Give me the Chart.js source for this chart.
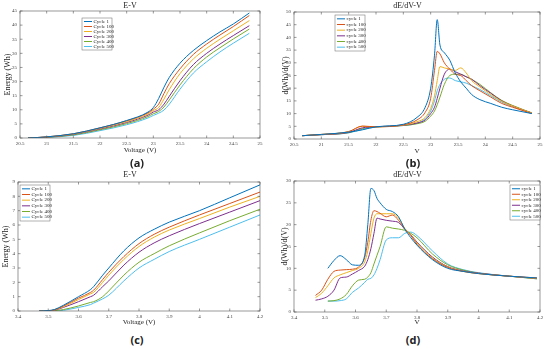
<!DOCTYPE html>
<html>
<head>
<meta charset="utf-8">
<script src="https://cdn.jsdelivr.net/npm/chart.js@4.4.1/dist/chart.umd.min.js"></script>
<style>
body { margin: 0; background: #fff; }
#page { position: relative; width: 550px; height: 349px; overflow: hidden; background: #fff; }
canvas { position: absolute; }
.tag { position: absolute; width: 40px; text-align: center; font: bold 11px "Open Sans", sans-serif; color: #222; }
</style>
</head>
<body>
<div id="page">
  <canvas id="chartA" width="275" height="158" style="left:0;top:0"></canvas>
  <canvas id="chartB" width="275" height="158" style="left:275px;top:0"></canvas>
  <canvas id="chartC" width="275" height="162" style="left:0;top:168px"></canvas>
  <canvas id="chartD" width="275" height="162" style="left:275px;top:168px"></canvas>
  <div class="tag" style="left:117px;top:155px">(a)</div>
  <div class="tag" style="left:393px;top:155px">(b)</div>
  <div class="tag" style="left:117px;top:332px">(c)</div>
  <div class="tag" style="left:393px;top:332px">(d)</div>
</div>
<script>
// legend names
const namesEV = ['Cycle 1', 'Cycle 100', 'Cycle 200', 'Cycle 300', 'Cycle 400', 'Cycle 500'];
const namesDV = ['cycle 1', 'cycle 100', 'cycle 200', 'cycle 300', 'cycle 400', 'cycle 500'];

// (a) pack E-V
const voltsA = [20.65, 21, 21.5, 22, 22.5, 22.9, 23.0, 23.1, 23.2, 23.3, 23.5, 23.75, 24, 24.25, 24.5, 24.8];
const energyA1   = [0, 0.4, 1.5, 3.6, 6.2, 9.2, 10.8, 14.0, 18.0, 21.5, 26.5, 31.0, 34.5, 37.6, 40.4, 44.3];
const energyA100 = [0, 0.4, 1.5, 3.6, 6.1, 8.9, 10.2, 12.0, 15.8, 19.3, 24.5, 29.6, 33.3, 36.5, 39.5, 43.4];
const energyA200 = [0, 0.35, 1.4, 3.4, 5.8, 8.5, 9.7, 10.8, 13.8, 17.2, 22.8, 28.0, 31.8, 35.0, 38.0, 41.6];
const energyA300 = [0, 0.3, 1.3, 3.2, 5.5, 8.1, 9.2, 10.0, 12.0, 14.8, 20.3, 26.0, 30.0, 33.3, 36.3, 39.8];
const energyA400 = [0, 0.25, 1.1, 2.9, 5.1, 7.6, 8.6, 9.4, 11.0, 13.5, 18.8, 24.5, 28.7, 32.0, 35.1, 38.6];
const energyA500 = [0, 0.2, 0.9, 2.6, 4.7, 7.1, 8.0, 8.8, 9.9, 12.0, 17.3, 23.0, 27.0, 30.5, 33.6, 37.1];

// (b) pack dE/dV-V
const voltsB = [20.65, 21, 21.5, 21.75, 22, 22.5, 22.75, 22.9, 23.0, 23.07, 23.12, 23.17, 23.25, 23.35, 23.45, 23.55, 23.65, 23.75, 23.9, 24.1, 24.3, 24.5, 24.85];
const dedvB1   = [1.3, 1.8, 2.7, 3.6, 4.8, 5.8, 8.5, 12.5, 20, 33, 47, 37, 34, 31, 26, 22.5, 20, 17.5, 15.5, 14, 12.5, 11.5, 10];
const dedvB100 = [1.3, 1.8, 2.9, 5.1, 4.8, 5.6, 7.5, 10.5, 16, 27, 34.5, 33.5, 30, 27.5, 25.5, 25, 23, 21, 19, 16.5, 14, 12.5, 10];
const dedvB200 = [1.3, 1.8, 2.9, 5.0, 4.8, 5.5, 6.8, 8.5, 12, 17, 23, 28.5, 28, 27.5, 27, 28, 26, 23, 20.5, 17.5, 14.8, 13, 10.2];
const dedvB300 = [1.3, 1.7, 2.6, 4.4, 4.8, 5.4, 6.3, 7.5, 10, 12.5, 16, 20, 25.5, 27.5, 26.5, 25.5, 24.5, 23.5, 21, 18, 15, 13, 10.2];
const dedvB400 = [1.3, 1.7, 2.5, 4.1, 4.8, 5.3, 6.0, 7.0, 9, 11, 13.5, 16.5, 21.5, 25, 25.5, 25.5, 24.5, 23.5, 21.5, 18.2, 15.2, 13.2, 10.3];
const dedvB500 = [1.3, 1.7, 2.4, 3.8, 4.7, 5.3, 6.2, 8, 11, 15, 19, 21.5, 23.5, 24, 23, 22.5, 22, 21, 19.5, 17, 14.5, 12.8, 10.2];

// (c) cell E-V
const voltsC = [3.47, 3.5, 3.52, 3.55, 3.6, 3.64, 3.65, 3.68, 3.7, 3.75, 3.8, 3.85, 3.9, 4.0, 4.1, 4.2];
const energyC1   = [0, 0.03, 0.1, 0.4, 1.0, 1.5, 1.7, 2.5, 3.0, 4.2, 5.1, 5.7, 6.2, 7.0, 7.9, 8.8];
const energyC100 = [0, 0.02, 0.08, 0.35, 0.9, 1.3, 1.45, 2.2, 2.7, 3.8, 4.7, 5.35, 5.85, 6.7, 7.5, 8.3];
const energyC200 = [0, 0.02, 0.07, 0.3, 0.8, 1.2, 1.3, 2.0, 2.5, 3.6, 4.5, 5.15, 5.65, 6.45, 7.25, 8.0];
const energyC300 = [0, 0.01, 0.05, 0.25, 0.65, 1.0, 1.1, 1.7, 2.1, 3.2, 4.1, 4.75, 5.25, 6.1, 6.9, 7.7];
const energyC400 = [0, 0, 0.02, 0.1, 0.35, 0.6, 0.65, 1.0, 1.4, 2.5, 3.4, 4.0, 4.55, 5.45, 6.3, 7.1];
const energyC500 = [0, 0, 0, 0.05, 0.25, 0.45, 0.55, 0.85, 1.1, 2.1, 3.0, 3.6, 4.15, 5.0, 5.85, 6.7];

// (d) cell dE/dV-V
const voltsD = [3.47, 3.49, 3.51, 3.53, 3.55, 3.57, 3.59, 3.61, 3.63, 3.64, 3.65, 3.66, 3.67, 3.68, 3.7, 3.72, 3.74, 3.76, 3.78, 3.8, 3.85, 3.9, 3.95, 4.0, 4.1, 4.19];
const dedvD1   = [null, null, 10, 11.8, 12.9, 12, 10.8, 10.7, 13, 20, 28.3, 27.8, 26, 25, 23.5, 23, 21.8, 19, 17, 15.3, 12, 10, 9.3, 8.8, 8.2, 7.8];
const dedvD100 = [3.8, 5, 7.5, 9.3, 9.6, 9.7, 9.8, 10.3, 12.5, 16, 21, 23.2, 23, 22.6, 21.8, 22.2, 21, 19, 17.5, 15.5, 12.2, 10.2, 9.3, 8.8, 8.2, 7.8];
const dedvD200 = [3.3, 4.3, 6, 7.8, 8.5, 9, 9.5, 10, 11.5, 14, 18, 21.5, 22.5, 22.5, 22.5, 22.5, 21.5, 19.2, 17.6, 15.8, 12.4, 10.3, 9.3, 8.8, 8.2, 7.7];
const dedvD300 = [2.7, 3, 3.6, 5, 7.8, 8, 8.7, 9.5, 10.5, 12, 14.5, 18, 21.5, 21.3, 21, 20.8, 20.5, 19, 17.7, 16, 12.6, 10.4, 9.4, 8.9, 8.2, 7.7];
const dedvD400 = [null, null, 2.5, 2.6, 3, 4, 6, 7.3, 7.5, 8, 9, 11, 13, 15, 19.5, 19.2, 19, 18.7, 18, 17, 13.3, 10.8, 9.6, 8.9, 8.2, 7.6];
const dedvD500 = [null, null, 2.5, 2.5, 2.6, 3, 4.5, 5.5, 6.8, 7.5, 7.7, 8.5, 10, 12, 16.5, 17, 17, 18, 18.3, 17.5, 14, 11, 9.7, 9, 8.2, 7.6];

const lineColors = ['#0072BD', '#D95319', '#EDB120', '#7E2F8E', '#77AC30', '#4DBEEE'];
const serif = '"Liberation Serif", "Times New Roman", serif';

// box around the axes with inward ticks, like matlab
const frameTicks = {
    id: 'frameTicks',
    afterDatasetsDraw(chart) {
        const ctx = chart.ctx;
        const a = chart.chartArea;
        const xs = chart.scales.x;
        const ys = chart.scales.y;
        ctx.save();
        ctx.strokeStyle = '#555';
        ctx.lineWidth = 0.6;
        ctx.strokeRect(a.left, a.top, a.right - a.left, a.bottom - a.top);
        ctx.beginPath();
        xs.ticks.forEach(t => {
            const px = xs.getPixelForValue(t.value);
            ctx.moveTo(px, a.bottom); ctx.lineTo(px, a.bottom - 2.5);
            ctx.moveTo(px, a.top); ctx.lineTo(px, a.top + 2.5);
        });
        ys.ticks.forEach(t => {
            const py = ys.getPixelForValue(t.value);
            ctx.moveTo(a.left, py); ctx.lineTo(a.left + 2.5, py);
            ctx.moveTo(a.right, py); ctx.lineTo(a.right - 2.5, py);
        });
        ctx.stroke();
        ctx.restore();
    }
};

// small boxed legend inside the plot
const boxLegend = {
    id: 'boxLegend',
    afterDraw(chart, args, o) {
        const ctx = chart.ctx;
        const a = chart.chartArea;
        const x = o.right ? a.right - o.w : a.left + o.dx;
        const y = a.top + o.dy;
        const sets = chart.data.datasets;
        const row = (o.h - 2) / sets.length;
        ctx.save();
        ctx.fillStyle = '#fff';
        ctx.fillRect(x, y, o.w, o.h);
        ctx.strokeStyle = '#666';
        ctx.lineWidth = 0.5;
        ctx.strokeRect(x, y, o.w, o.h);
        ctx.font = '5px ' + serif;
        ctx.textBaseline = 'middle';
        sets.forEach((ds, i) => {
            const cy = y + 1 + row * (i + 0.5);
            ctx.strokeStyle = ds.borderColor;
            ctx.lineWidth = 1;
            ctx.beginPath();
            ctx.moveTo(x + 2, cy);
            ctx.lineTo(x + 10, cy);
            ctx.stroke();
            ctx.fillStyle = '#222';
            ctx.fillText(ds.label, x + 11.5, cy);
        });
        ctx.restore();
    }
};

function makeSets(volts, series, names) {
    return series.map((vals, i) => ({
        label: names[i],
        data: volts.map((v, j) => ({ x: v, y: vals[j] })).filter(p => p.y !== null),
        borderColor: lineColors[i],
        borderWidth: 1,
        pointRadius: 0,
        cubicInterpolationMode: 'monotone',
        fill: false
    }));
}

function tickText(v) {
    return String(+Number(v).toFixed(2));
}

function makePanel(id, p) {
    new Chart(document.getElementById(id), {
        type: 'line',
        data: { datasets: makeSets(p.volts, p.series, p.names) },
        options: {
            responsive: false,
            animation: false,
            layout: { padding: { right: p.padRight } },
            plugins: {
                legend: { display: false },
                tooltip: { enabled: false },
                title: {
                    display: true,
                    text: p.title,
                    color: '#222',
                    font: { family: serif, size: 8, weight: 'normal' },
                    padding: p.titlePad
                },
                boxLegend: p.legend
            },
            scales: {
                x: {
                    type: 'linear',
                    min: p.xMin,
                    max: p.xMax,
                    ticks: { stepSize: p.xStep, autoSkip: false, maxRotation: 0, padding: 2.5, color: '#444', font: { family: serif, size: 5 }, callback: tickText },
                    grid: { display: false, drawTicks: false },
                    border: { display: false },
                    title: { display: true, text: p.xTitle, color: '#222', font: { family: serif, size: 7 }, padding: { top: 0, bottom: p.xTitlePad } },
                    afterFit: s => { s.height = p.xAxisH; }
                },
                y: {
                    min: 0,
                    max: p.yMax,
                    ticks: { stepSize: p.yStep, autoSkip: false, padding: 3, color: '#444', font: { family: serif, size: 5 }, callback: tickText },
                    grid: { display: false, drawTicks: false },
                    border: { display: false },
                    title: { display: true, text: p.yTitle, color: '#222', font: { family: serif, size: 8 }, padding: { top: p.yTitlePad, bottom: 0 } },
                    afterFit: s => { s.width = p.yAxisW; }
                }
            }
        },
        plugins: [frameTicks, boxLegend]
    });
}

makePanel('chartA', {
    volts: voltsA,
    series: [energyA1, energyA100, energyA200, energyA300, energyA400, energyA500],
    names: namesEV, title: 'E-V', titlePad: { top: 1.4, bottom: 0 },
    xMin: 20.5, xMax: 25, xStep: 0.5, xTitle: 'Voltage (V)', xTitlePad: 3.3, xAxisH: 20,
    yMax: 45, yStep: 5, yTitle: 'Energy (Wh)', yTitlePad: 3, yAxisW: 20,
    padRight: 15,
    legend: { dx: 62, dy: 7, w: 30, h: 32 }
});

makePanel('chartB', {
    volts: voltsB,
    series: [dedvB1, dedvB100, dedvB200, dedvB300, dedvB400, dedvB500],
    names: namesDV, title: 'dE/dV-V', titlePad: { top: 1.4, bottom: 1 },
    xMin: 20.5, xMax: 25, xStep: 0.5, xTitle: 'V', xTitlePad: 2.8, xAxisH: 19,
    yMax: 50, yStep: 5, yTitle: 'd(Wh)/d(V)', yTitlePad: 6, yAxisW: 19,
    padRight: 10,
    legend: { dx: 41, dy: 3, w: 30, h: 36 }
});

makePanel('chartC', {
    volts: voltsC,
    series: [energyC1, energyC100, energyC200, energyC300, energyC400, energyC500],
    names: namesEV, title: 'E-V', titlePad: { top: 2.2, bottom: 2.2 },
    xMin: 3.4, xMax: 4.2, xStep: 0.1, xTitle: 'Voltage (V)', xTitlePad: 3.8, xAxisH: 19,
    yMax: 9, yStep: 1, yTitle: 'Energy (Wh)', yTitlePad: 1.5, yAxisW: 18,
    padRight: 15,
    legend: { dx: 2, dy: 3, w: 30, h: 36 }
});

makePanel('chartD', {
    volts: voltsD,
    series: [dedvD1, dedvD100, dedvD200, dedvD300, dedvD400, dedvD500],
    names: namesDV, title: 'dE/dV-V', titlePad: { top: 2.2, bottom: 1.2 },
    xMin: 3.4, xMax: 4.2, xStep: 0.1, xTitle: 'V', xTitlePad: 3.8, xAxisH: 18,
    yMax: 30, yStep: 5, yTitle: 'd(Wh)/d(V)', yTitlePad: 5, yAxisW: 19,
    padRight: 10,
    legend: { right: true, dy: 4, w: 30, h: 35 }
});
</script>
</body>
</html>
